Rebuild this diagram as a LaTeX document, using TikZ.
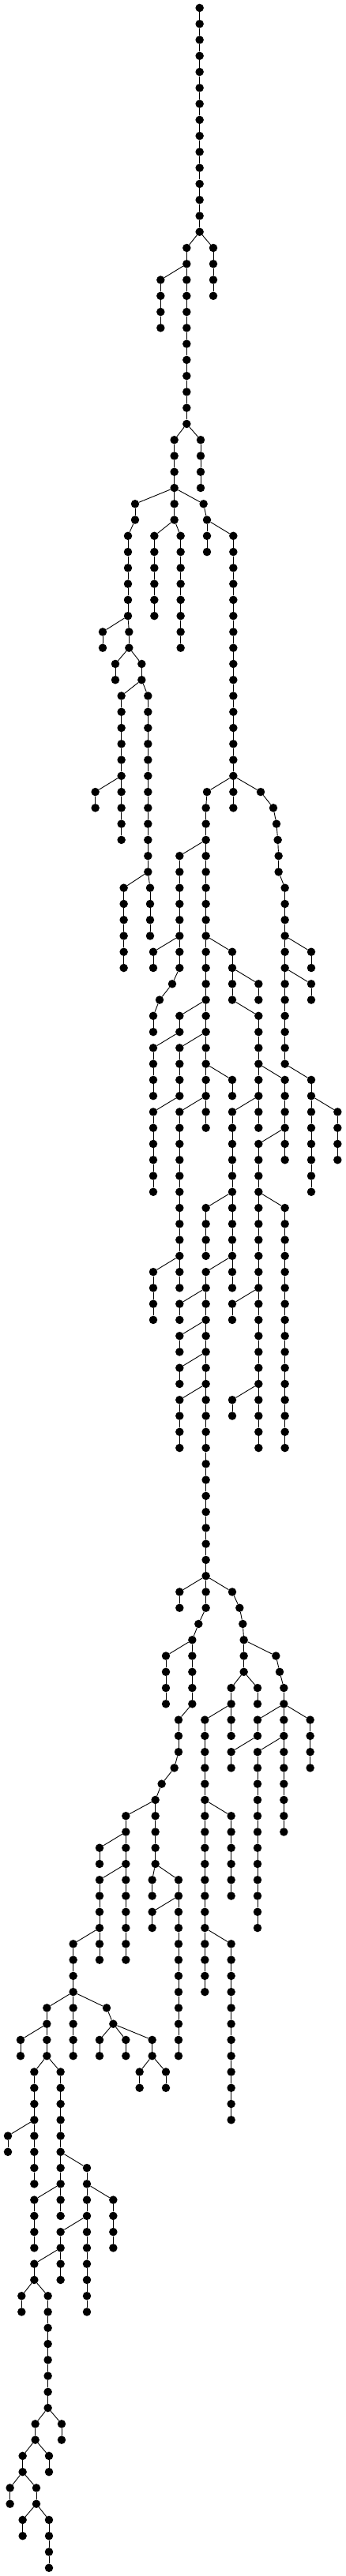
\documentclass[tikz,border=0pt]{standalone}
\usepackage{tikz}
\tikzset{
    treedot/.style={circle, fill=black, inner sep=0pt, minimum size=10.5pt},
    branchline/.style={line width=0.9pt},
}
% a run of nodes, one per level, each hanging from the one above
% #1 name, #2 parent, #3 first level, #4 list of x positions
\newcommand{\treebranch}[4]{%
  \foreach \bx [count=\bi] in {#4} {
    \pgfmathtruncatemacro\lv{#3+\bi-1}
    \pgfmathtruncatemacro\lp{\lv-1}
    \node[treedot] (#1-\lv) at (\bx,\lv) {};
    \ifnum\bi=1 \draw[branchline] (#2) -- (#1-\lv);
    \else \draw[branchline] (#1-\lp) -- (#1-\lv);
    \fi
  }%
}
% #1 name, #2 parent, #3 first level, #4 last level, #5 x position
\newcommand{\treechain}[5]{%
  \foreach \lv in {#3,...,#4} {
    \pgfmathtruncatemacro\lp{\lv-1}
    \node[treedot] (#1-\lv) at (#5,\lv) {};
    \ifnum\lv=#3 \draw[branchline] (#2) -- (#1-\lv);
    \else \draw[branchline] (#1-\lp) -- (#1-\lv);
    \fi
  }%
}
\begin{document}
\begin{tikzpicture}[x=0.33333pt, y=-20.267pt]
\useasboundingbox (0,-0.4934) rectangle (1314,160.507);
% top part
\node[treedot] (root) at (758,0) {};
\treechain{trunk}{root}{1}{14}{758}
\treechain{A}{trunk-14}{15}{18}{810}
\treechain{B}{trunk-14}{15}{26}{709}
\treechain{C}{B-16}{17}{20}{610}
\treechain{D}{B-26}{27}{30}{762}
\treechain{E}{B-26}{27}{30}{662}
\treebranch{F}{E-30}{31}{513,513,486,486,486,486,486,486}
\treechain{G}{E-30}{31}{32}{662}
\treechain{H}{G-32}{33}{38}{586}
\treechain{I}{G-32}{33}{40}{686}
\treebranch{J}{E-30}{31}{773,786}
\treechain{K}{J-32}{33}{34}{786}
\treechain{L}{J-32}{33}{48}{886}
\treechain{M}{F-38}{39}{40}{390}
\treechain{N}{F-38}{39}{40}{490}
\treechain{O}{N-40}{41}{42}{438}
\treechain{P}{N-40}{41}{42}{538}
\treechain{Q}{P-42}{43}{52}{461}
\treechain{S}{Q-48}{49}{50}{362}
\treechain{T}{P-42}{43}{54}{562}
\treechain{U}{T-54}{55}{60}{470}
\treechain{V}{T-54}{55}{58}{570}
\treechain{W}{L-48}{49}{50}{886}
\treebranch{X}{L-48}{49}{990,1038,1050,1055,1058,1058}
\treechain{X}{X-54}{55}{66}{1082}
\treechain{Y}{X-58}{59}{60}{1182}
\treechain{Z}{X-60}{61}{62}{1182}
% middle part
\treebranch{Ma}{L-48}{49}{786}
\treechain{Ma}{Ma-49}{50}{70}{782}
\treechain{Ba}{Ma-52}{53}{60}{682}
\treebranch{Ba}{Ba-60}{61}{654,606,582,582}
\treechain{Ca}{Ba-58}{59}{60}{582}
\treechain{Da}{Ma-58}{59}{62}{882}
\treechain{Ea}{Da-60}{61}{62}{982}
\treechain{Fa}{Da-62}{63}{70}{982}
\treechain{Ga}{Ma-62}{63}{64}{682}
\treechain{Ha}{Ga-64}{65}{68}{582}
\treechain{Ia}{Ma-64}{65}{68}{682}
\treechain{Ja}{Ia-68}{69}{74}{582}
\treechain{Ka}{Ma-66}{67}{68}{882}
\treechain{La}{Ma-68}{69}{80}{682}
\treechain{Na}{La-78}{79}{82}{582}
\treechain{Oa}{Fa-66}{67}{72}{1082}
\treechain{Pa}{Fa-68}{69}{80}{882}
\treechain{Qa}{Pa-74}{75}{78}{782}
\treechain{Ra}{Oa-70}{71}{90}{982}
\treechain{Sa}{Ra-74}{75}{90}{1082}
\treechain{Ta}{X-66}{67}{74}{1182}
\treechain{Ua}{Ta-68}{69}{72}{1282}
\treechain{Va}{Ra-80}{81}{82}{882}
\treechain{Wa}{Ra-86}{87}{88}{882}
\treechain{Xa}{Pa-78}{79}{98}{782}
\treechain{Ya}{Xa-80}{81}{82}{682}
\treechain{Za}{Xa-82}{83}{84}{682}
\treechain{Ab}{Xa-84}{85}{86}{682}
\treechain{Bb}{Xa-86}{87}{90}{682}
% lower part
\treechain{Cb}{Xa-98}{99}{100}{682}
\treebranch{Db}{Xa-98}{99}{782,782,754,730}
\treechain{Eb}{Db-102}{103}{106}{630}
\treechain{Fb}{Db-102}{103}{106}{730}
\treebranch{Fb}{Fb-106}{107}{678,678,678,662,614,590}
\treechain{Gb}{Fb-112}{113}{116}{478}
\treechain{Hb}{Gb-114}{115}{116}{378}
\treechain{Ib}{Gb-116}{117}{120}{378}
\treechain{Jb}{Gb-116}{117}{122}{478}
\treechain{Kb}{Fb-112}{113}{116}{590}
\treechain{Lb}{Kb-116}{117}{118}{578}
\treechain{Mb}{Kb-116}{117}{118}{678}
\treechain{Nb}{Mb-118}{119}{120}{578}
\treechain{Ob}{Mb-118}{119}{128}{678}
\treechain{Pb}{Ib-120}{121}{122}{378}
\treechain{Qb}{Ib-120}{121}{124}{278}
\treechain{Rb}{Qb-124}{125}{126}{178}
\treechain{Sb}{Rb-126}{127}{128}{78}
\treechain{Tb}{Rb-126}{127}{128}{178}
\treechain{Ub}{Tb-128}{129}{132}{130}
\treechain{Vb}{Tb-128}{129}{134}{230}
\treechain{Wb}{Ub-132}{133}{134}{30}
\treechain{Xb}{Ub-132}{133}{136}{130}
\treechain{Yb}{Qb-124}{125}{128}{278}
\treebranch{Zb}{Qb-124}{125}{405,430}
\treechain{Ac}{Zb-126}{127}{128}{378}
\treechain{Bc}{Zb-126}{127}{128}{478}
\treechain{Cc}{Zb-126}{127}{128}{578}
\treechain{Dc}{Cc-128}{129}{130}{530}
\treechain{Ec}{Cc-128}{129}{130}{630}
\treebranch{Hc}{Xa-98}{99}{882,910,922,926,926,926}
\treebranch{Ic}{Hc-102}{103}{1048,1062}
\treechain{Ic}{Ic-104}{105}{114}{1078}
\treechain{Jc}{Hc-104}{105}{108}{878}
\treechain{Kc}{Hc-104}{105}{106}{978}
\treechain{Lc}{Jc-106}{107}{120}{778}
\treechain{Mc}{Lc-112}{113}{118}{878}
\treechain{Nc}{Ic-106}{107}{108}{978}
\treechain{Oc}{Nc-108}{109}{110}{878}
\treechain{Pc}{Ic-106}{107}{110}{1178}
\treechain{Qc}{Ic-108}{109}{120}{978}
\treechain{Rc}{Lc-120}{121}{124}{778}
\treechain{Sc}{Lc-120}{121}{132}{878}
% bottom part
\treechain{Tc}{Vb-134}{135}{136}{230}
\treechain{Uc}{Tc-136}{137}{140}{130}
\treechain{Vc}{Tc-136}{137}{138}{230}
\treechain{Wc}{Vb-134}{135}{136}{330}
\treechain{Xc}{Wc-136}{137}{140}{430}
\treechain{Yc}{Wc-136}{137}{138}{330}
\treechain{Zc}{Yc-138}{139}{144}{330}
\treechain{Ad}{Yc-138}{139}{140}{230}
\treechain{Bd}{Ad-140}{141}{142}{230}
\treechain{Cd}{Ad-140}{141}{142}{130}
\treechain{Dd}{Cd-142}{143}{144}{82}
\treechain{Ed}{Cd-142}{143}{150}{182}
\treechain{Fd}{Ed-150}{151}{152}{234}
\treechain{Gd}{Ed-150}{151}{152}{134}
\treechain{Hd}{Gd-152}{153}{154}{186}
\treechain{Id}{Gd-152}{153}{154}{86}
\treechain{Jd}{Id-154}{155}{156}{38}
\treechain{Kd}{Id-154}{155}{156}{138}
\treechain{Ld}{Kd-156}{157}{158}{86}
\treechain{Md}{Kd-156}{157}{160}{186}
\end{tikzpicture}
\end{document}
